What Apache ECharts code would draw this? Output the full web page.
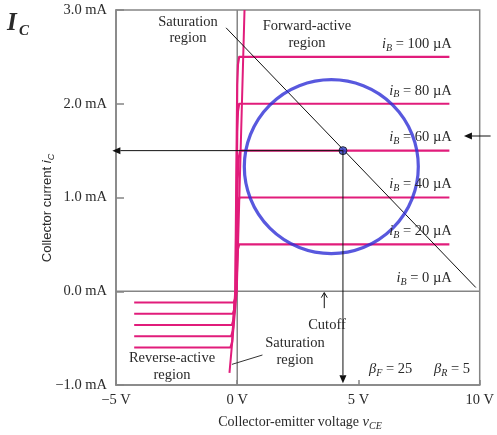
<!DOCTYPE html>
<html>
<head>
<meta charset="utf-8">
<script src="https://cdn.jsdelivr.net/npm/echarts@6/dist/echarts.min.js"></script>
<style>
  html, body { margin: 0; padding: 0; background: #ffffff; }
  #chart { width: 497px; height: 435px; }
</style>
</head>
<body>
<div id="chart"></div>
<script>
// ---- BJT output characteristics (npn, βF = 25, βR = 5) ----

// Base-current steps and the collector currents they produce
const baseCurrents = [0, 20, 40, 60, 80, 100];            // µA
const forwardIc    = [0, 0.5, 1.0, 1.5, 2.0, 2.5];        // mA, forward-active
const reverseIc    = [0, -0.12, -0.24, -0.36, -0.48, -0.60]; // mA, reverse-active

// Output curves, [vCE (V), iC (mA)]
const curve20  = [[-4.25, -0.12], [-0.14, -0.12], [-0.08, -0.08], [-0.04, 0.0], [0.0, 0.30], [0.03, 0.45], [0.08, 0.5], [8.75, 0.5]];
const curve40  = [[-4.25, -0.24], [-0.18, -0.24], [-0.12, -0.19], [-0.05, 0.0], [0.0, 0.70], [0.03, 0.93], [0.09, 1.0], [8.75, 1.0]];
const curve60  = [[-4.25, -0.36], [-0.22, -0.36], [-0.15, -0.30], [-0.06, 0.0], [0.02, 1.20], [0.06, 1.42], [0.12, 1.5], [8.75, 1.5]];
const curve80  = [[-4.25, -0.48], [-0.25, -0.48], [-0.18, -0.42], [-0.07, 0.0], [0.0, 1.70], [0.03, 1.92], [0.08, 2.0], [8.75, 2.0]];
const curve100 = [[-4.25, -0.60], [-0.28, -0.60], [-0.21, -0.54], [-0.08, 0.0], [0.0, 2.20], [0.03, 2.42], [0.08, 2.5], [8.75, 2.5]];
const outputCurves = [curve20, curve40, curve60, curve80, curve100];
const steepEdge = [[-0.32, -0.87], [-0.02, 0.0], [0.30, 3.0]];

// Load line, operating point and the highlighted region around it
const loadLine = [[-0.46, 2.81], [9.84, 0.04]];
const qPoint = [4.36, 1.5];
const circleCenter = [3.88, 1.33];

// Annotation pointers, [vCE, iC]
const saturationPointer = [[-0.22, -0.78], [1.04, -0.68]];
const arrowToYAxis = [qPoint, [-5.15, 1.5]];
const arrowToXAxis = [qPoint, [4.36, -0.98]];
const arrowFromRight = [[10.45, 1.656], [9.35, 1.656]];
const cutoffArrow = [[3.59, -0.18], [3.59, -0.015]];

// Axis ranges
const xRange = [-5, 10], xStep = 5;
const yRange = [-1, 3], yStep = 1;

const SERIF = '"Liberation Serif", "DejaVu Serif", serif';
const SANS = '"Liberation Sans", Arial, sans-serif';
const TEXT = '#2a2a2a';
const PINK = '#e11c7b';
const AXIS = '#858585';

const chart = echarts.init(document.getElementById('chart'), null, { renderer: 'canvas' });

const minus = v => (v < 0 ? '\u2212' : '');

const series = [
  { type: 'line', data: [[0, yRange[0]], [0, yRange[1]]], symbol: 'none', silent: true,
    lineStyle: { color: AXIS, width: 1.5 }, z: 1 },
  { type: 'line', data: [[xRange[0], 0], [xRange[1], 0]], symbol: 'none', silent: true,
    lineStyle: { color: AXIS, width: 1.5 }, z: 1 },
  { type: 'line', data: steepEdge, symbol: 'none', silent: true,
    lineStyle: { color: PINK, width: 2 }, z: 2 }
];
outputCurves.forEach(c => series.push({
  type: 'line', data: c, symbol: 'none', silent: true,
  lineStyle: { color: PINK, width: 2.2, join: 'round' }, z: 2
}));
series.push(
  { type: 'line', data: loadLine, symbol: 'none', silent: true,
    lineStyle: { color: '#111', width: 1 }, z: 3 },
  { type: 'line', data: saturationPointer, symbol: 'none', silent: true,
    lineStyle: { color: '#333', width: 1 }, z: 3 },
  { type: 'scatter', data: [circleCenter], symbol: 'circle', symbolSize: 174, silent: true,
    itemStyle: { color: 'rgba(0,0,0,0)', borderColor: '#2e2ed6', borderWidth: 3.2 }, z: 4 },
  { type: 'scatter', data: [qPoint], symbol: 'circle', symbolSize: 8, silent: true,
    itemStyle: { color: '#2c3ec8', borderColor: '#111', borderWidth: 1 }, z: 6 }
);

chart.setOption({
  animation: false,
  backgroundColor: '#ffffff',
  grid: { left: 116, top: 10, width: 370, height: 375, show: true,
          borderColor: AXIS, borderWidth: 1.5, containLabel: false },
  xAxis: {
    type: 'value', min: xRange[0], max: xRange[1], interval: xStep,
    axisLine: { show: true, onZero: false, lineStyle: { color: AXIS, width: 1.5 } },
    axisTick: { show: true, inside: true, length: 5, lineStyle: { color: AXIS, width: 1.5 } },
    splitLine: { show: false },
    axisLabel: { formatter: v => minus(v) + Math.abs(v) + ' V', fontFamily: SERIF,
                 fontSize: 14.5, color: TEXT, margin: 8 }
  },
  yAxis: {
    type: 'value', min: yRange[0], max: yRange[1], interval: yStep,
    axisLine: { show: true, onZero: false, lineStyle: { color: AXIS, width: 1.5 } },
    axisTick: { show: true, inside: true, length: 8, lineStyle: { color: AXIS, width: 1.5 } },
    splitLine: { show: false },
    axisLabel: { formatter: v => minus(v) + Math.abs(v).toFixed(1) + ' mA', fontFamily: SERIF,
                 fontSize: 14.5, color: TEXT, margin: 9 }
  },
  series
});

// ---- annotations ----
const px = p => chart.convertToPixel({ gridIndex: 0 }, p);

function arrow(seg, len, wid, open) {
  const a = px(seg[0]), b = px(seg[1]);
  const ang = Math.atan2(b[1] - a[1], b[0] - a[0]);
  const cx = Math.cos(ang), sy = Math.sin(ang);
  const bx = b[0] - len * cx, by = b[1] - len * sy;
  const ox = -sy * wid / 2, oy = cx * wid / 2;
  const out = [{
    type: 'line', silent: true, z: 20,
    shape: { x1: a[0], y1: a[1], x2: open ? b[0] : bx, y2: open ? b[1] : by },
    style: { stroke: '#111', lineWidth: 1 }
  }];
  if (open) {
    out.push({ type: 'polyline', silent: true, z: 20,
      shape: { points: [[bx + ox, by + oy], [b[0], b[1]], [bx - ox, by - oy]] },
      style: { stroke: '#111', lineWidth: 1, fill: null } });
  } else {
    out.push({ type: 'polygon', silent: true, z: 20,
      shape: { points: [[b[0], b[1]], [bx + ox, by + oy], [bx - ox, by - oy]] },
      style: { fill: '#111' } });
  }
  return out;
}

const richSerif = {
  it:  { fontFamily: SERIF, fontStyle: 'italic', fontSize: 14.5, lineHeight: 18, fill: TEXT },
  b:   { fontFamily: SERIF, fontStyle: 'italic', fontSize: 14.5, lineHeight: 18, fill: TEXT },
  sub: { fontFamily: SERIF, fontStyle: 'italic', fontSize: 10, lineHeight: 9, verticalAlign: 'bottom', fill: TEXT }
};
const richSans = {
  it:  { fontFamily: SANS, fontStyle: 'italic', fontSize: 13, lineHeight: 17, fill: TEXT },
  sub: { fontFamily: SANS, fontStyle: 'italic', fontSize: 9, lineHeight: 8, verticalAlign: 'bottom', fill: TEXT }
};

function label(x, y, text, opts) {
  opts = opts || {};
  return {
    type: 'text', x, y, silent: true, z: 30, rotation: opts.rotation || 0,
    style: {
      text, fill: TEXT,
      fontFamily: opts.family || SERIF, fontSize: opts.size || 14.5,
      fontStyle: opts.style || 'normal', fontWeight: opts.weight || 'normal',
      align: opts.align || 'center', verticalAlign: 'middle',
      lineHeight: opts.lh || 18, rich: opts.rich || richSerif
    }
  };
}

const graphics = [];
arrow(arrowToYAxis, 8, 7).forEach(g => graphics.push(g));
arrow(arrowToXAxis, 8, 7).forEach(g => graphics.push(g));
arrow(arrowFromRight, 8, 7).forEach(g => graphics.push(g));
arrow(cutoffArrow, 5, 6, true).forEach(g => graphics.push(g));

// base-current labels sit just above each curve
baseCurrents.forEach((ib, k) => {
  const p = px([8.85, forwardIc[k]]);
  graphics.push(label(p[0], p[1] - 13, '{it|i}{sub|B} = ' + ib + ' \u00b5A', { align: 'right' }));
});

graphics.push(
  label(7, 24, 'I', { align: 'left', size: 25, style: 'italic', weight: 'bold' }),
  label(19, 31, 'C', { align: 'left', size: 15, style: 'italic', weight: 'bold' }),
  label(188, 30, 'Saturation\nregion', { lh: 16 }),
  label(307, 34.5, 'Forward-active\nregion', { lh: 17 }),
  label(327, 325, 'Cutoff'),
  label(295, 351.5, 'Saturation\nregion', { lh: 17 }),
  label(172, 366.5, 'Reverse-active\nregion', { lh: 17 }),
  label(369, 369, '{b|\u03b2}{sub|F} = 25', { align: 'left' }),
  label(434, 369, '{b|\u03b2}{sub|R} = 5', { align: 'left' }),
  label(300, 422, 'Collector-emitter voltage {it|v}{sub|CE}', { size: 14 }),
  label(47, 208, 'Collector current {it|i}{sub|C}', { family: SANS, size: 13, lh: 17,
    rotation: Math.PI / 2, rich: richSans })
);

chart.setOption({ graphic: { elements: graphics } });
</script>
</body>
</html>
